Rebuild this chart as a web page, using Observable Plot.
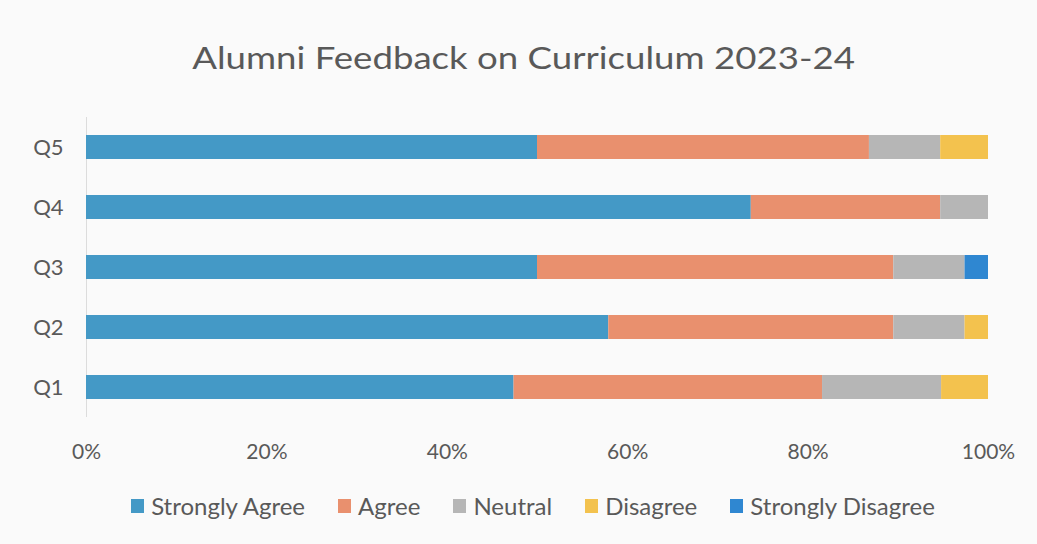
<!DOCTYPE html>
<html>
<head>
<meta charset="utf-8">
<script src="https://cdn.jsdelivr.net/npm/d3@7"></script>
<script src="https://cdn.jsdelivr.net/npm/@observablehq/plot@0.6"></script>
<style>
  html, body { margin: 0; padding: 0; background: #fafafa; }
  body { width: 1037px; height: 544px; overflow: hidden; font-family: Lato, "Open Sans", sans-serif; color: #595959; }
  #title { height: 110px; box-sizing: border-box; padding-top: 37px; text-align: center; font-size: 30px; line-height: 40px; color: #595959; }
  #title span { display: inline-block; transform: scaleX(1.22); transform-origin: 50% 50%; margin-left: 10px; }
  #legend { display: flex; justify-content: center; align-items: center; gap: 33px; height: 69px; box-sizing: border-box; padding-bottom: 8px; font-size: 24px; color: #595959; padding-left: 29px; }
  .item { display: flex; align-items: center; gap: 7px; }
  .sw { width: 13px; height: 14px; display: inline-block; }
</style>
</head>
<body>
<div id="title"><span>Alumni Feedback on Curriculum 2023-24</span></div>
<div id="chart"></div>
<div id="legend"></div>
<script>
const questions = ["Q1", "Q2", "Q3", "Q4", "Q5"];
const categories = ["Strongly Agree", "Agree", "Neutral", "Disagree", "Strongly Disagree"];
const colors = ["#4499c6", "#e9906e", "#b6b6b6", "#f3c24e", "#2f87d1"];
// percentage of respondents per question (n = 38)
const stronglyAgree    = [47.4, 57.9, 50.0, 73.7, 50.0];
const agree            = [34.2, 31.6, 39.5, 21.0, 36.8];
const neutral          = [13.2,  7.9,  7.9,  5.3,  7.9];
const disagree         = [ 5.2,  2.6,  0.0,  0.0,  5.3];
const stronglyDisagree = [ 0.0,  0.0,  2.6,  0.0,  0.0];
const xTicks = [0, 20, 40, 60, 80, 100];

const series = [stronglyAgree, agree, neutral, disagree, stronglyDisagree];
const rows = [];
questions.forEach((q, i) => {
  categories.forEach((c, j) => rows.push({question: q, category: c, value: series[j][i]}));
});

const chart = Plot.plot({
  width: 1037,
  height: 365,
  marginTop: 7,
  marginBottom: 58,
  marginLeft: 86,
  marginRight: 49,
  style: {fontFamily: "Lato, 'Open Sans', sans-serif", fontSize: "21px", color: "#595959", background: "transparent"},
  x: {domain: [0, 100], label: null},
  y: {domain: questions.slice().reverse(), paddingInner: 0.6, paddingOuter: 0.3, label: null},
  color: {domain: categories, range: colors},
  marks: [
    Plot.ruleX([0], {stroke: "#dcdcdc", strokeWidth: 1}),
    Plot.barX(rows, Plot.stackX({x: "value", y: "question", fill: "category", order: categories})),
    Plot.axisX({ticks: xTicks, tickFormat: d => d + "%", tickSize: 0, tickPadding: 27, label: null, fontSize: 21}),
    Plot.axisY({tickSize: 0, tickPadding: 23, label: null, fontSize: 22})
  ]
});
document.getElementById("chart").appendChild(chart);

const legend = document.getElementById("legend");
categories.forEach((c, j) => {
  const it = document.createElement("div");
  it.className = "item";
  const sw = document.createElement("span");
  sw.className = "sw";
  sw.style.background = colors[j];
  const t = document.createElement("span");
  t.textContent = c;
  it.appendChild(sw);
  it.appendChild(t);
  legend.appendChild(it);
});
</script>
</body>
</html>
